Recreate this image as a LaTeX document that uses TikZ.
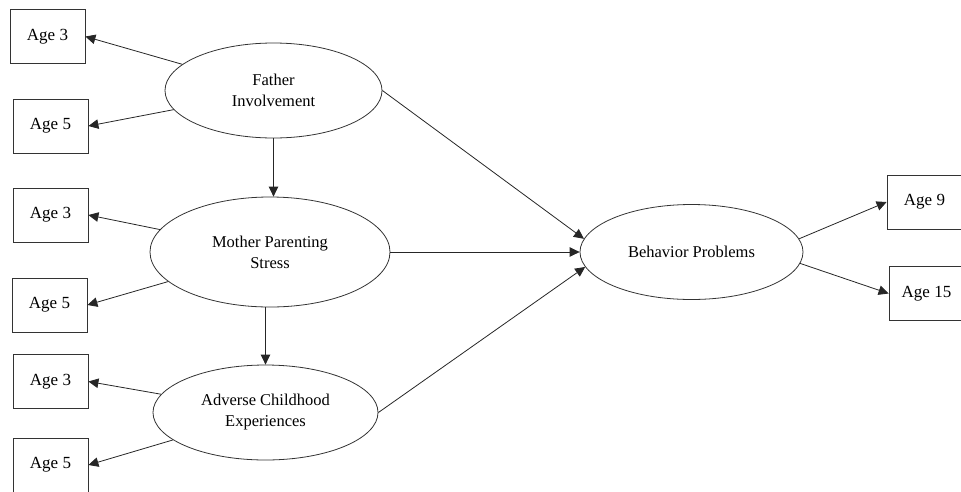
\documentclass[tikz,border=0pt]{standalone}
\usepackage{fontspec}
\setmainfont{Liberation Serif}
\usetikzlibrary{arrows.meta,shapes.geometric}

\begin{document}
\begin{tikzpicture}[x=1pt,y=-1pt,
  latent/.style={draw=black!80,ellipse,inner sep=0pt,align=center,font=\fontsize{16.5}{21}\selectfont},
  observed/.style={draw=black!80,rectangle,minimum width=75pt,minimum height=54pt,font=\fontsize{17}{21}\selectfont},
  path/.style={draw=black!85,line width=0.8pt,-{Triangle[length=10pt,width=9.5pt]}}]
\tikzset{every path/.append style={line width=0.8pt}}
\useasboundingbox (0,0) rectangle (961,491);
\node[latent,minimum width=217pt,minimum height=95pt] (fi) at (273.5,90.5) {Father\\Involvement};
\node[latent,minimum width=240pt,minimum height=110pt] (mp) at (270,252) {Mother Parenting\\Stress};
\node[latent,minimum width=225pt,minimum height=95pt] (ac) at (265.5,412.5) {Adverse Childhood\\Experiences};
\node[latent,minimum width=223pt,minimum height=95pt] (bp) at (691.5,252) {Behavior Problems};
\node[observed] (f3) at (47.5,36.5) {Age 3};
\node[observed] (f5) at (50.5,126) {Age 5};
\node[observed] (m3) at (50.5,215) {Age 3};
\node[observed] (m5) at (49.5,305) {Age 5};
\node[observed] (a3) at (50.5,381.5) {Age 3};
\node[observed] (a5) at (50.5,465) {Age 5};
\node[observed] (b9) at (924.5,202) {Age 9};
\node[observed] (b15) at (926.5,293.5) {Age 15};
\draw[path] (fi) -- (f3.east);
\draw[path] (fi) -- (f5.east);
\draw[path] (mp) -- (m3.east);
\draw[path] (mp) -- (m5.east);
\draw[path] (ac) -- (a3.east);
\draw[path] (ac) -- (a5.east);
\draw[path] (fi.south) -- (fi.south |- mp.north);
\draw[path] (mp.south -| ac.north) -- (ac.north);
\draw[path] (fi.east) -- (bp.173);
\draw[path] (mp.east) -- (bp.west);
\draw[path] (ac.east) -- (bp.188);
\draw[path] (bp.7) -- (b9.west);
\draw[path] (bp.-6) -- (b15.west);
\end{tikzpicture}
\end{document}
